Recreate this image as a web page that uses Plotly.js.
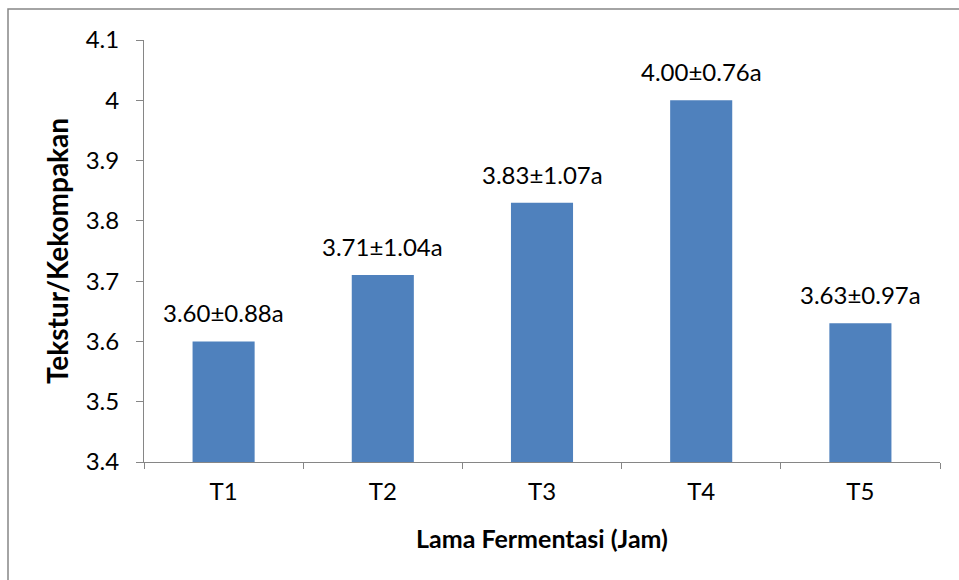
<!DOCTYPE html>
<html>
<head>
<meta charset="utf-8">
<script src="https://cdn.plot.ly/plotly-3.0.1.min.js"></script>
<style>html,body{margin:0;padding:0;background:#fff;}#chart{width:959px;height:580px;}</style>
</head>
<body>
<div id="chart"></div>
<script>
var categories = ["T1", "T2", "T3", "T4", "T5"];
var means = [3.60, 3.71, 3.83, 4.00, 3.63];
var sds = [0.88, 1.04, 1.07, 0.76, 0.97];
var letters = ["a", "a", "a", "a", "a"];
var yTicks = [3.4, 3.5, 3.6, 3.7, 3.8, 3.9, 4, 4.1];
var yTickLabels = ["3.4", "3.5", "3.6", "3.7", "3.8", "3.9", "4", "4.1"];

var FONT = "Lato, 'Open Sans', sans-serif";
var labels = means.map(function (m, i) { return m.toFixed(2) + "±" + sds[i].toFixed(2) + letters[i]; });

var trace = {
  type: "bar",
  x: categories,
  y: means,
  marker: { color: "#4F81BD", line: { width: 0 } },
  hoverinfo: "none"
};

var annotations = categories.map(function (c, i) {
  return {
    x: c, y: means[i], xref: "x", yref: "y",
    text: labels[i], showarrow: false,
    yanchor: "bottom", yshift: 12,
    font: { family: FONT, size: 24, color: "#000" }
  };
});

var layout = {
  width: 959, height: 580,
  margin: { l: 144, r: 19, t: 40, b: 118 },
  paper_bgcolor: "#fff", plot_bgcolor: "#fff",
  bargap: 0.61,
  showlegend: false,
  font: { family: FONT, size: 24, color: "#000" },
  xaxis: {
    type: "category",
    tickson: "boundaries",
    ticks: "outside", ticklen: 6, tickcolor: "#868686", tickwidth: 1,
    ticklabelstandoff: 8,
    showline: true, linecolor: "#868686", linewidth: 1,
    showgrid: false, zeroline: false,
    tickfont: { family: FONT, size: 24, color: "#000" },
    title: { text: "<b>Lama Fermentasi (Jam)</b>", font: { family: FONT, size: 25, color: "#000" }, standoff: 26 }
  },
  yaxis: {
    range: [3.4, 4.1],
    tickvals: yTicks, ticktext: yTickLabels,
    ticks: "outside", ticklen: 7, tickcolor: "#868686", tickwidth: 1,
    ticklabelstandoff: 12,
    showline: true, linecolor: "#868686", linewidth: 1,
    showgrid: false, zeroline: false,
    tickfont: { family: FONT, size: 24, color: "#000" },
    title: { text: "<b>Tekstur/Kekompakan</b>", font: { family: FONT, size: 28, color: "#000" }, standoff: 8 }
  },
  annotations: annotations,
  shapes: [{
    type: "rect", xref: "paper", yref: "paper",
    x0: -136 / 796, x1: 1.2, y0: -0.5, y1: 1 + 31 / 422,
    line: { color: "#868686", width: 1.5 }, fillcolor: "rgba(0,0,0,0)", layer: "below"
  }]
};

Plotly.newPlot("chart", [trace], layout, { displayModeBar: false, staticPlot: true });
</script>
</body>
</html>
